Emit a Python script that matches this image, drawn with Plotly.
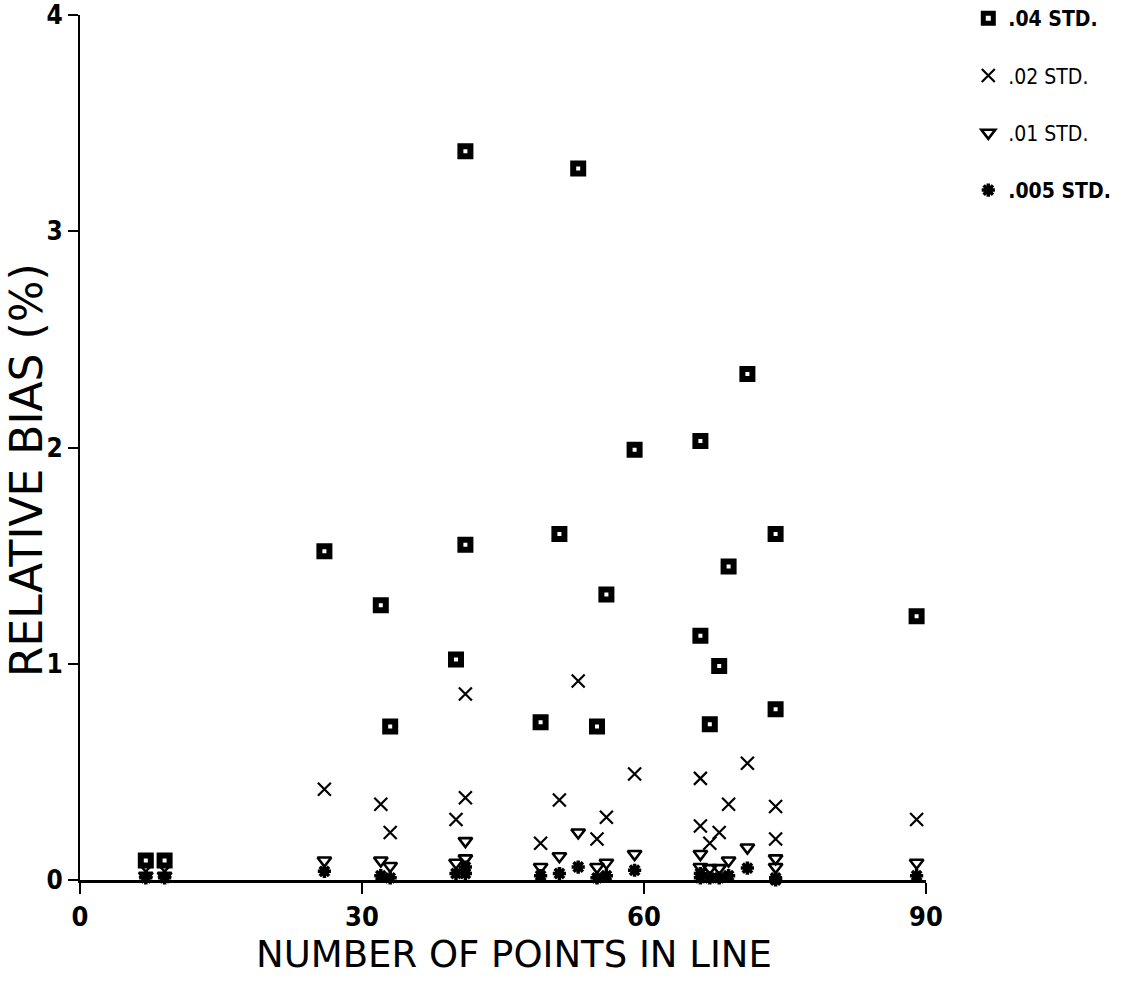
import plotly.graph_objects as go

# Number of points in each line, one entry per line tested
n_points = [7, 9, 26, 32, 33, 40, 41, 41, 49, 51, 53, 55, 56, 59,
            66, 66, 67, 68, 69, 71, 74, 74, 89]

# Relative bias (%) for each noise level, same order as n_points
bias_04 = [0.09, 0.09, 1.52, 1.27, 0.71, 1.02, 1.55, 3.37, 0.73, 1.60, 3.29, 0.71, 1.32, 1.99,
           2.03, 1.13, 0.72, 0.99, 1.45, 2.34, 1.60, 0.79, 1.22]
bias_02 = [0.04, 0.04, 0.42, 0.35, 0.22, 0.28, 0.38, 0.86, 0.17, 0.37, 0.92, 0.19, 0.29, 0.49,
           0.47, 0.25, 0.17, 0.22, 0.35, 0.54, 0.34, 0.19, 0.28]
bias_01 = [0.02, 0.02, 0.09, 0.09, 0.065, 0.08, 0.10, 0.18, 0.06, 0.11, 0.22, 0.06, 0.08, 0.12,
           0.12, 0.06, 0.055, 0.055, 0.09, 0.15, 0.10, 0.06, 0.08]
bias_005 = [0.01, 0.01, 0.04, 0.02, 0.01, 0.03, 0.03, 0.06, 0.02, 0.03, 0.06, 0.01, 0.02, 0.045,
            0.03, 0.01, 0.01, 0.01, 0.02, 0.055, 0.01, 0.0, 0.02]

series_names = ["<b>.04 STD.</b>", ".02 STD.", ".01 STD.", "<b>.005 STD.</b>"]
x_ticks = [0, 30, 60, 90]
y_ticks = [0, 1, 2, 3, 4]
x_title = "NUMBER OF POINTS IN LINE"
y_title = "RELATIVE BIAS (%)"

TICK_FONT = "DejaVu Sans Condensed, Liberation Sans Narrow, DejaVu Sans, sans-serif"
TITLE_FONT = "DejaVu Sans, Liberation Sans, sans-serif"

# plot box in pixels: x 80..926, y 15..880
PLOT_L, PLOT_W, PLOT_B, PLOT_H = 80, 846, 880, 865

styles = [
    dict(symbol="square-open", size=10, line=dict(width=6, color="black")),
    dict(symbol="x-thin-open", size=13, line=dict(width=2.2, color="black")),
    dict(symbol="triangle-down-open", size=12, line=dict(width=2.6, color="black")),
    dict(symbol="asterisk-open", size=11, line=dict(width=3.5, color="black")),
]

fig = go.Figure()
for i, (name, vals) in enumerate(zip(series_names, [bias_04, bias_02, bias_01, bias_005])):
    fig.add_trace(go.Scatter(
        x=n_points, y=vals, mode="markers", name=name,
        legendgroup=f"g{i}",
        marker=dict(color="black", **styles[i]),
        cliponaxis=False,
    ))

# axis titles placed as paper annotations
fig.add_annotation(text=x_title, xref="paper", yref="paper",
                   x=(514 - PLOT_L) / PLOT_W, y=-(955 - PLOT_B) / PLOT_H,
                   showarrow=False, xanchor="center", yanchor="middle",
                   font=dict(size=37, family=TITLE_FONT, color="black"))
fig.add_annotation(text=y_title, xref="paper", yref="paper",
                   x=-(PLOT_L - 26) / PLOT_W, y=(PLOT_B - 470) / PLOT_H, textangle=-90,
                   showarrow=False, xanchor="center", yanchor="middle",
                   font=dict(size=44, family=TITLE_FONT, color="black"))

fig.update_layout(
    width=1134, height=995,
    margin=dict(l=PLOT_L, r=1134 - PLOT_L - PLOT_W, t=PLOT_B - PLOT_H,
                b=995 - PLOT_B, autoexpand=False),
    paper_bgcolor="white", plot_bgcolor="white",
    font=dict(family=TICK_FONT, color="black"),
    showlegend=True,
    legend=dict(
        x=1.05, y=1 + 17.0 / PLOT_H, xanchor="left", yanchor="top",
        font=dict(size=21, family=TICK_FONT, color="black"),
        tracegroupgap=27, itemwidth=30,
        bgcolor="rgba(0,0,0,0)",
    ),
    xaxis=dict(
        range=[0, 90], tickvals=x_ticks, ticktext=[str(v) for v in x_ticks],
        showline=True, linecolor="black", linewidth=2.5,
        ticks="outside", ticklen=11, tickwidth=2.2, tickcolor="black",
        showgrid=False, zeroline=False, ticklabeloverflow="allow",
        tickfont=dict(size=27, family=TICK_FONT, color="black", weight="bold"),
    ),
    yaxis=dict(
        range=[0, 4], tickvals=y_ticks, ticktext=[str(v) for v in y_ticks],
        showline=True, linecolor="black", linewidth=2.2,
        ticks="outside", ticklen=10, tickwidth=2.2, tickcolor="black",
        showgrid=False, zeroline=False, ticklabeloverflow="allow",
        tickfont=dict(size=26, family=TICK_FONT, color="black", weight="bold"),
    ),
)

fig.write_html("out.html")
